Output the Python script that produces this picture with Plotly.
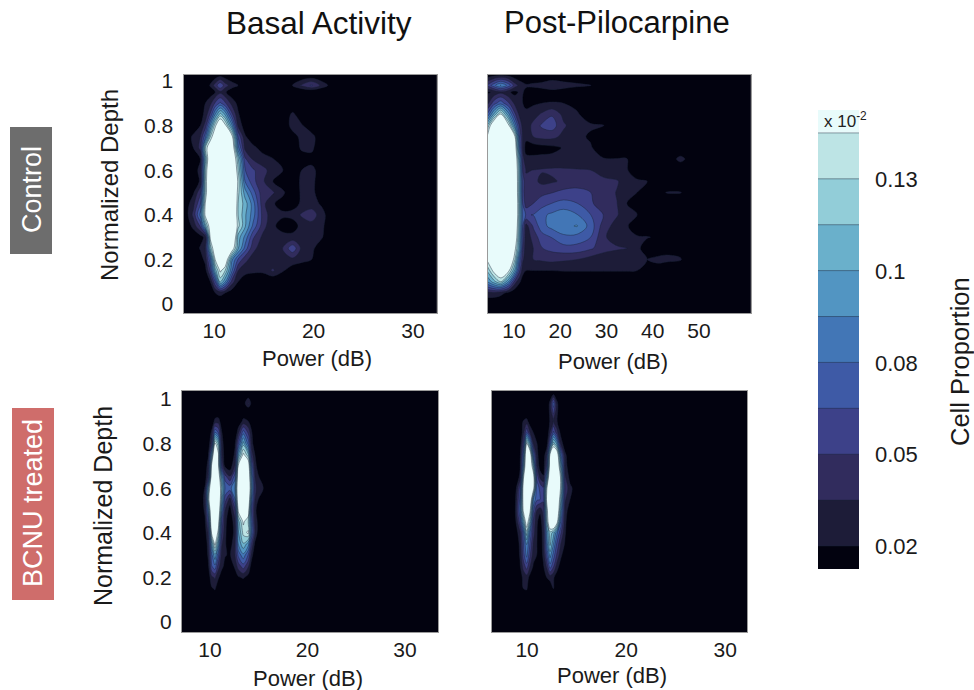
import numpy as np
import plotly.graph_objects as go

W, H = 974, 690
depth = [-0.05,0,0.05,0.1,0.15,0.2,0.25,0.3,0.35,0.4,0.45,0.5,0.55,0.6,0.65,0.7,0.75,0.8,0.85,0.9,0.95,0.98,1.03]

power_a = [7.0,7.9,8.6,9.1,9.6,10.1,10.6,11.1,11.8,12.4,13.1,13.9,14.9,15.9,16.9,17.9,18.8,19.8,20.8,21.8,22.8,25.2,32.4]
basal_control = [
[3,3,3,3,3,3,3,3,3,3,3,3,3,3,3,3,3,3,3,3,3,3,3],
[3,3,3,3,4,6,8,6,4,3,3,3,3,3,3,3,3,3,3,3,3,3,3],
[3,3,4,6,12,20,24,20,10,6,4,3,3,3,3,3,3,3,3,3,3,3,3],
[3,3,5,10,20,60,120,90,40,20,10,6,5,4,3,3,3,3,3,3,3,3,3],
[3,4,8,14,50,110,148,130,75,34,26,24,24,36,22,10,5,3,3,3,3,3,3],
[3,5,12,25,70,146,200,170,90,60,38,28,24,24,24,30,26,20,8,4,3,3,3],
[4,8,22,34,120,170,220,220,160,105,70,38,26,24,35,58,30,24,10,4,3,3,3],
[4,8,14,24,150,210,230,230,190,110,85,50,30,24,24,24,26,34,22,6,3,3,3],
[5,25,50,110,160,220,240,240,200,135,105,72,40,22,15,14,24,28,24,8,3,3,3],
[8,38,80,150,190,240,250,250,190,130,105,82,42,25,22,24,36,42,26,10,3,3,3],
[8,30,60,146,200,250,250,250,200,130,110,82,38,21,16,15,22,26,18,5,3,3,3],
[5,18,45,130,190,240,250,250,200,135,95,68,38,36,22,12,22,26,8,3,3,3,3],
[4,10,22,130,190,240,250,250,200,140,75,52,36,20,14,8,24,26,8,3,3,3,3],
[4,12,25,125,190,240,250,250,190,130,62,50,38,28,21,8,20,25,12,3,3,3,3],
[3,10,20,110,180,230,240,240,180,120,50,32,26,21,10,5,8,14,6,3,3,3,3],
[6,20,38,130,170,220,220,215,170,80,30,24,14,6,4,4,24,24,6,3,3,3,3],
[6,24,34,70,130,170,200,190,150,60,22,10,6,4,4,14,24,26,8,3,3,3,3],
[4,8,20,40,90,140,175,150,90,30,12,6,4,4,8,26,22,8,4,3,3,3,3],
[3,4,14,24,50,90,123,100,50,22,8,4,3,3,6,24,8,4,3,3,3,3,3],
[3,3,6,20,30,50,64,50,28,16,6,3,3,3,3,3,3,3,3,3,3,3,3],
[3,3,3,6,12,20,30,22,10,5,3,3,3,3,3,3,3,3,3,3,3,3,3],
[3,3,3,8,22,40,60,40,26,20,12,5,3,3,4,22,36,50,30,14,4,3,3],
[3,3,3,4,6,8,10,8,6,5,4,3,3,3,3,3,3,3,3,3,3,3,3],
]

power_b = [4.3,5.6,7.1,8.8,10.2,11.2,11.9,12.6,14.2,16.0,18.2,20.7,23.6,26.5,29.4,32.3,34.4,36.6,38.8,41,43.1,46,48.9,53.2,61.2]
pilo_control = [
[3,3,3,3,3,3,3,3,3,3,3,3,3,3,3,3,3,3,3,3,3,3,3,3,3],
[8,6,5,4,3,3,3,3,3,3,3,3,3,3,3,3,3,3,3,3,3,3,3,3,3],
[28,30,25,16,8,4,3,3,3,3,3,3,3,3,3,3,3,3,3,3,3,3,3,3,3],
[90,110,130,90,40,22,14,8,5,4,4,4,4,4,4,4,4,4,4,3,3,3,3,3,3],
[120,150,170,150,100,50,24,20,20,20,20,21,21,21,21,21,21,20,19,14,6,4,3,3,3],
[150,190,220,190,130,70,36,26,34,36,38,36,34,28,24,22,22,21,20,23,24,22,5,3,3],
[170,220,260,220,150,100,46,24,34,47,52,56,56,50,40,36,34,24,12,12,14,10,3,3,3],
[190,240,260,240,170,105,55,24,40,55,62,72,70,62,36,26,21,21,21,18,6,3,3,3,3],
[200,240,260,240,180,110,60,28,50,70,80,85,90,70,40,28,21,14,5,3,3,3,3,3,3],
[210,250,260,250,185,115,70,60,62,72,78,84,76,62,47,35,25,21,10,4,3,3,3,3,3],
[210,250,260,250,185,115,60,40,48,55,62,66,62,50,40,34,20,14,5,3,3,3,3,3,3],
[210,250,260,250,185,110,55,34,38,44,47,52,54,48,40,33,26,20,8,14,21,21,8,3,3],
[210,250,260,250,185,110,55,36,38,30,32,36,38,40,37,35,27,22,20,5,3,3,3,3,3],
[200,240,250,240,180,110,46,33,34,35,36,36,35,34,28,25,21,12,5,3,3,3,3,3,3],
[190,230,250,230,175,100,38,24,24,24,24,24,24,23,21,21,21,8,3,3,6,26,8,3,3],
[180,220,240,220,165,75,30,14,12,14,16,21,24,22,10,4,3,3,3,3,3,3,3,3,3],
[150,190,220,190,146,60,30,24,34,38,38,30,24,18,8,3,3,3,3,3,3,3,3,3,3],
[120,175,220,150,85,45,28,26,38,50,55,36,25,22,21,8,3,3,3,3,3,3,3,3,3],
[65,105,146,95,50,30,24,22,28,36,46,30,22,12,6,3,3,3,3,3,3,3,3,3,3],
[30,55,70,50,30,24,20,18,18,20,21,20,16,6,3,3,3,3,3,3,3,3,3,3,3],
[18,22,30,22,16,22,21,16,10,12,12,10,5,3,3,3,3,3,3,3,3,3,3,3,3],
[50,70,90,70,40,30,26,22,24,26,34,28,24,21,6,3,3,3,3,3,3,3,3,3,3],
[8,10,12,10,8,5,3,3,3,3,3,3,3,3,3,3,3,3,3,3,3,3,3,3,3],
]

power_c = [7.13,8.98,9.49,9.83,10.17,10.51,10.86,11.2,11.54,12.05,12.57,12.91,13.42,13.93,14.28,14.62,14.96,15.47,16.5,19.23,33.4]
basal_bcnu = [
[3,3,3,3,3,3,3,3,3,3,3,3,3,3,3,3,3,3,3,3,3],
[3,3,3,3,3,3,3,3,3,3,3,3,3,3,3,3,3,3,3,3,3],
[3,3,3,3,3,3,3,3,3,3,3,3,3,3,3,3,3,3,3,3,3],
[3,3,3,3,3,6,3,3,3,3,3,3,3,3,3,3,3,3,3,3,3],
[3,3,3,3,18,22,8,3,3,3,3,3,3,3,3,3,3,3,3,3,3],
[3,3,3,10,30,36,22,12,3,3,8,18,22,14,3,3,3,3,3,3,3],
[3,3,3,16,60,72,40,24,16,6,24,40,55,36,10,3,3,3,3,3,3],
[3,3,4,24,70,100,65,28,21,18,34,65,85,60,26,6,3,3,3,3,3],
[3,3,6,28,100,150,100,36,22,10,34,90,115,95,45,16,3,3,3,3,3],
[3,3,12,36,150,180,135,50,24,6,26,100,135,148,75,34,12,3,3,3,3],
[3,3,16,60,180,210,160,60,26,6,30,110,148,130,70,28,16,3,3,3,3],
[3,3,24,90,190,225,180,90,34,12,45,150,190,160,60,26,8,3,3,3,3],
[3,3,28,130,200,225,195,110,55,28,75,175,215,185,80,34,20,8,3,3,3],
[3,3,22,110,195,225,190,120,75,70,90,180,220,195,100,40,24,20,5,3,3],
[3,3,10,40,170,215,170,100,55,36,70,170,210,185,90,34,22,8,3,3,3],
[3,3,6,30,150,200,150,50,16,10,36,150,200,170,70,26,12,3,3,3,3],
[3,3,3,18,100,200,150,36,10,3,24,100,150,120,40,20,6,3,3,3,3],
[3,3,3,8,40,150,120,30,8,3,18,60,110,70,26,8,3,3,3,3,3],
[3,3,3,3,24,75,60,22,3,3,3,30,70,45,22,3,3,3,3,3,3],
[3,3,3,3,3,26,28,10,3,3,3,8,24,20,3,3,3,3,3,3,3],
[3,3,3,3,3,3,3,3,3,3,3,3,8,8,3,3,3,3,3,3,3],
[3,3,3,3,3,3,3,3,3,3,3,3,10,36,14,3,3,3,3,3,3],
[3,3,3,3,3,3,3,3,3,3,3,3,3,3,3,3,3,3,3,3,3],
]

power_d = [6.46,8.28,8.78,9.29,9.63,9.96,10.3,10.63,10.97,11.31,11.65,11.98,12.32,12.66,13.0,13.4,13.83,14.34,15.35,18.38,32.2]
pilo_bcnu = [
[3,3,3,3,3,3,3,3,3,3,3,3,3,3,3,3,3,3,3,3,3],
[3,3,3,3,3,3,3,3,3,3,3,3,3,3,3,3,3,3,3,3,3],
[3,3,3,3,3,3,3,3,3,3,3,3,3,3,3,3,3,3,3,3,3],
[3,3,3,3,3,6,3,3,3,3,3,3,3,3,3,3,3,3,3,3,3],
[3,3,3,3,20,22,8,3,3,3,3,3,8,21,8,3,3,3,3,3,3],
[3,3,3,12,24,28,14,3,3,3,3,20,26,22,12,3,3,3,3,3,3],
[3,3,3,18,40,55,34,18,8,3,18,36,70,50,28,12,3,3,3,3,3],
[3,3,3,22,55,80,50,26,20,8,24,60,95,70,46,24,8,3,3,3,3],
[3,3,3,24,60,90,60,32,21,8,26,80,120,90,60,34,18,3,3,3,3],
[3,3,8,30,70,125,75,40,22,8,28,90,125,110,80,50,22,3,3,3,3],
[3,3,12,55,110,165,115,45,24,10,34,120,180,200,160,75,24,6,3,3,3],
[3,3,16,75,150,200,150,65,34,24,40,130,190,210,190,100,28,10,3,3,3],
[3,3,14,65,160,210,185,90,65,62,50,150,200,220,200,120,36,20,5,3,3],
[3,3,8,55,160,215,210,160,65,60,50,140,200,220,205,140,46,24,5,3,3],
[3,3,3,24,140,205,200,165,60,30,22,90,190,215,200,140,36,14,3,3,3],
[3,3,3,18,100,195,180,120,36,12,10,50,165,205,190,110,28,8,3,3,3],
[3,3,3,14,80,190,170,75,28,8,8,36,150,190,175,80,24,6,3,3,3],
[3,3,3,8,50,146,100,34,22,6,3,8,70,125,100,30,8,3,3,3,3],
[3,3,3,3,30,60,34,20,8,3,3,3,34,65,40,15,3,3,3,3,3],
[3,3,3,3,22,26,10,3,3,3,3,3,22,34,22,3,3,3,3,3,3],
[3,3,3,3,3,3,3,3,3,3,3,3,26,55,26,3,3,3,3,3,3],
[3,3,3,3,3,3,3,3,3,3,3,3,26,70,26,3,3,3,3,3,3],
[3,3,3,3,3,3,3,3,3,3,3,3,3,8,3,3,3,3,3,3,3],
]

level_start, level_end, level_step = 0.02, 0.1445, 0.01378
band_colors = ["#02020f","#1d1c38","#312c5d","#3d4189","#3e5aa6","#4276b6",
               "#5295c2","#6ab0cb","#92cdd8","#bde4e5","#e8fbfb"]
scale_ticks = [0.02,0.0475,0.075,0.1025,0.13]
scale_labels = ["0.02","0.05","0.08","0.1","0.13"]
scale_extent = [0.0131,0.1509]
depth_ticks = [0,0.2,0.4,0.6,0.8,1]
depth_labels = ["0","0.2","0.4","0.6","0.8","1"]

FONT = "Liberation Sans"
INK = "#1a1a1a"
colorscale = [[i/(len(band_colors)-1), c] for i, c in enumerate(band_colors)]

fig = go.Figure()

def contour(x, y, z, xa, ya):
    return go.Contour(x=x, y=y, z=z, xaxis=xa, yaxis=ya, showscale=False,
                      colorscale=colorscale, autocontour=False,
                      contours=dict(start=level_start, end=level_end, size=level_step, coloring="fill"),
                      line=dict(color="rgba(25,35,55,0.55)", width=0.8, smoothing=1.0),
                      hoverinfo="skip")

panels = [
 (power_a, basal_control, "x", "y"),
 (power_b, pilo_control, "x2", "y2"),
 (power_c, basal_bcnu, "x3", "y3"),
 (power_d, pilo_bcnu, "x4", "y4"),
]
for x, z, xa, ya in panels:
    fig.add_trace(contour(x, depth, (np.array(z)/1000).tolist(), xa, ya))

fig.add_trace(contour([0,1], scale_extent, [[scale_extent[0]]*2,[scale_extent[1]]*2], "x5", "y5"))

def xd(a,b): return [a/W, b/W]
def yd(t,b): return [1-b/H, 1-t/H]

ax_x = dict(showgrid=False, zeroline=False, ticks="", showline=True, mirror=True, linecolor="#9a9a9a", linewidth=1,
            tickfont=dict(size=21, color=INK, family=FONT), ticklabelstandoff=-1)
ax_y = dict(showgrid=False, zeroline=False, ticks="", showline=True, mirror=True, linecolor="#9a9a9a", linewidth=1,
            tickmode="array", tickvals=depth_ticks, ticktext=depth_labels,
            tickfont=dict(size=21, color=INK, family=FONT), ticklabelstandoff=5)

fig.update_layout(
    width=W, height=H, margin=dict(l=0,r=0,t=0,b=0,autoexpand=False), paper_bgcolor="white", plot_bgcolor="#02020f",
    font=dict(family=FONT, color=INK), showlegend=False,
    xaxis=dict(ax_x, domain=xd(183.5,436.7), range=[6.9,32.4], tickvals=[10,20,30], anchor="y"),
    yaxis=dict(ax_y, domain=yd(74.7,313), range=[-0.04,1.028], anchor="x"),
    xaxis2=dict(ax_x, domain=xd(487.5,750.7), range=[4.26,61.2], tickvals=[10,20,30,40,50], anchor="y2"),
    yaxis2=dict(ax_y, domain=yd(74.7,313), range=[-0.04,1.028], showticklabels=False, anchor="x2"),
    xaxis3=dict(ax_x, domain=xd(182,438), range=[7.13,33.4], tickvals=[10,20,30], anchor="y3"),
    yaxis3=dict(ax_y, domain=yd(391,632), range=[-0.045,1.036], anchor="x3"),
    xaxis4=dict(ax_x, domain=xd(492,747), range=[6.46,32.2], tickvals=[10,20,30], anchor="y4"),
    yaxis4=dict(ax_y, domain=yd(391,632), range=[-0.045,1.036], showticklabels=False, anchor="x4"),
    xaxis5=dict(domain=xd(818,859), range=[0,1], visible=False, anchor="y5"),
    yaxis5=dict(domain=yd(110,569), range=scale_extent, side="right", anchor="x5", showgrid=False, zeroline=False,
                ticks="", tickmode="array", tickvals=scale_ticks, ticktext=scale_labels, showline=False,
                tickfont=dict(size=22, color=INK, family=FONT), ticklabelstandoff=15),
)

def px_x(v): return v/W
def px_y(v): return 1-v/H
fig.add_shape(type="rect", xref="paper", yref="paper", x0=px_x(10), x1=px_x(52), y0=px_y(254), y1=px_y(127),
              fillcolor="#6d6d6d", line_width=0, layer="below")
fig.add_shape(type="rect", xref="paper", yref="paper", x0=px_x(12), x1=px_x(54), y0=px_y(600), y1=px_y(408),
              fillcolor="#cf6d6b", line_width=0, layer="below")

def note(x, y, text, size, color="#111111", angle=0):
    fig.add_annotation(xref="paper", yref="paper", x=px_x(x), y=px_y(y), text=text, showarrow=False,
                       textangle=angle, font=dict(size=size, color=color, family=FONT),
                       xanchor="center", yanchor="middle")
note(319, 23, "Basal Activity", 31.5)
note(617, 23, "Post-Pilocarpine", 31)
note(32, 190, "Control", 27, "white", -90)
note(33, 503, "BCNU treated", 27, "white", -90)
note(845, 120, "x 10<sup>-2</sup>", 17, "#222222")
note(109, 185, "Normalized Depth", 24, INK, -90)
note(103, 506, "Normalized Depth", 25, INK, -90)
note(317, 358, "Power (dB)", 22, INK)
note(613, 361, "Power (dB)", 22, INK)
note(308, 678, "Power (dB)", 22, INK)
note(612, 675, "Power (dB)", 22, INK)
note(960, 362, "Cell Proportion", 25.5, INK, -90)

fig.write_html("out.html", config=dict(displayModeBar=False),
               post_script="document.body.style.margin='0';document.body.style.overflow='hidden';")
